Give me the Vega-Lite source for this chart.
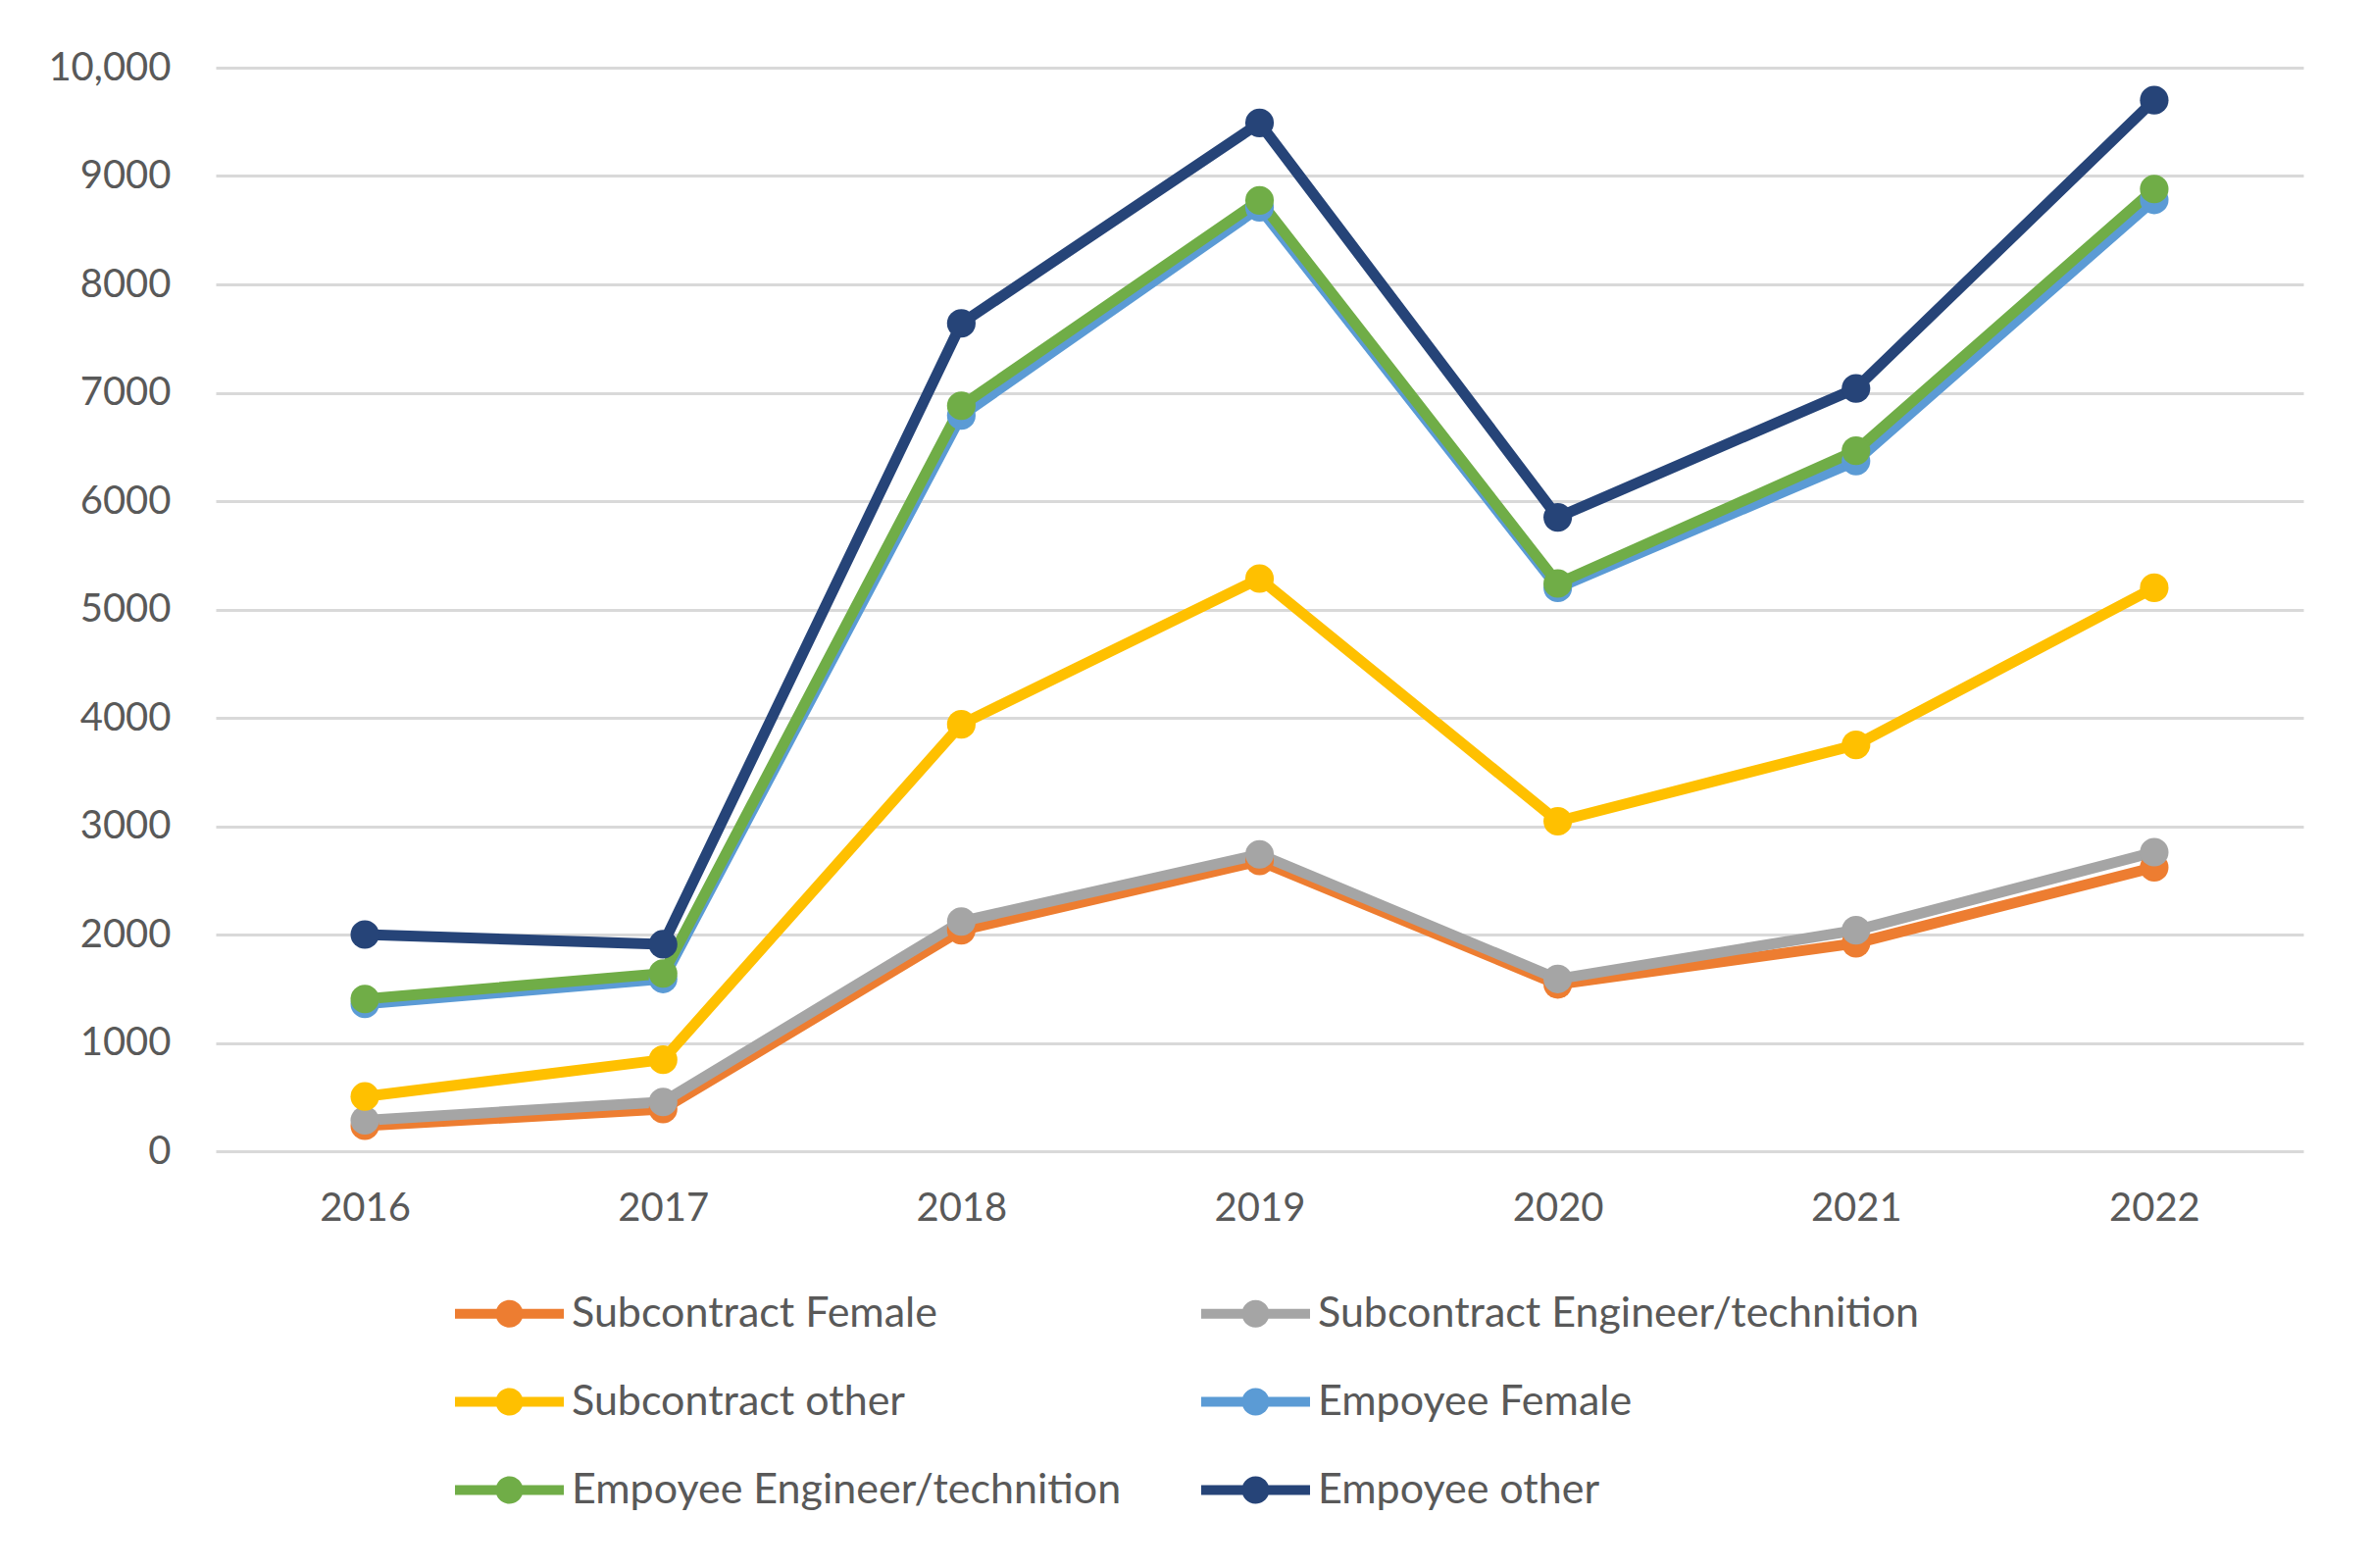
{
  "$schema": "https://vega.github.io/schema/vega-lite/v6.json",
  "width": 2129,
  "height": 1105,
  "autosize": "none",
  "padding": {"left": 220, "top": 69, "right": 69, "bottom": 425},
  "background": "white",
  "config": {
    "view": {"stroke": null},
    "font": "Lato",
    "axis": {
      "labelFont": "Lato",
      "labelColor": "#595959",
      "labelFontSize": 40,
      "tickSize": 0,
      "ticks": false,
      "domain": false
    }
  },
  "data": {
    "values": [
      {"series": "Subcontract Female", "year": "2016", "value": 235},
      {"series": "Subcontract Female", "year": "2017", "value": 390},
      {"series": "Subcontract Female", "year": "2018", "value": 2040},
      {"series": "Subcontract Female", "year": "2019", "value": 2680},
      {"series": "Subcontract Female", "year": "2020", "value": 1540},
      {"series": "Subcontract Female", "year": "2021", "value": 1920},
      {"series": "Subcontract Female", "year": "2022", "value": 2620},
      {"series": "Subcontract Engineer/technition", "year": "2016", "value": 285},
      {"series": "Subcontract Engineer/technition", "year": "2017", "value": 455},
      {"series": "Subcontract Engineer/technition", "year": "2018", "value": 2120},
      {"series": "Subcontract Engineer/technition", "year": "2019", "value": 2740},
      {"series": "Subcontract Engineer/technition", "year": "2020", "value": 1590},
      {"series": "Subcontract Engineer/technition", "year": "2021", "value": 2040},
      {"series": "Subcontract Engineer/technition", "year": "2022", "value": 2760},
      {"series": "Subcontract other", "year": "2016", "value": 505},
      {"series": "Subcontract other", "year": "2017", "value": 845},
      {"series": "Subcontract other", "year": "2018", "value": 3940},
      {"series": "Subcontract other", "year": "2019", "value": 5285},
      {"series": "Subcontract other", "year": "2020", "value": 3045},
      {"series": "Subcontract other", "year": "2021", "value": 3750},
      {"series": "Subcontract other", "year": "2022", "value": 5200},
      {"series": "Empoyee Female", "year": "2016", "value": 1360},
      {"series": "Empoyee Female", "year": "2017", "value": 1590},
      {"series": "Empoyee Female", "year": "2018", "value": 6790},
      {"series": "Empoyee Female", "year": "2019", "value": 8710},
      {"series": "Empoyee Female", "year": "2020", "value": 5200},
      {"series": "Empoyee Female", "year": "2021", "value": 6370},
      {"series": "Empoyee Female", "year": "2022", "value": 8780},
      {"series": "Empoyee Engineer/technition", "year": "2016", "value": 1405},
      {"series": "Empoyee Engineer/technition", "year": "2017", "value": 1640},
      {"series": "Empoyee Engineer/technition", "year": "2018", "value": 6880},
      {"series": "Empoyee Engineer/technition", "year": "2019", "value": 8775},
      {"series": "Empoyee Engineer/technition", "year": "2020", "value": 5240},
      {"series": "Empoyee Engineer/technition", "year": "2021", "value": 6465},
      {"series": "Empoyee Engineer/technition", "year": "2022", "value": 8880},
      {"series": "Empoyee other", "year": "2016", "value": 2000},
      {"series": "Empoyee other", "year": "2017", "value": 1910},
      {"series": "Empoyee other", "year": "2018", "value": 7640},
      {"series": "Empoyee other", "year": "2019", "value": 9490},
      {"series": "Empoyee other", "year": "2020", "value": 5850},
      {"series": "Empoyee other", "year": "2021", "value": 7040},
      {"series": "Empoyee other", "year": "2022", "value": 9700}
    ]
  },
  "encoding": {
    "x": {
      "field": "year",
      "type": "ordinal",
      "scale": {"type": "point", "padding": 0.5},
      "axis": {"title": null, "labelAngle": 0, "labelPadding": 38, "grid": false}
    },
    "y": {
      "field": "value",
      "type": "quantitative",
      "scale": {"domain": [0, 10000], "nice": false},
      "axis": {
        "title": null,
        "values": [0, 1000, 2000, 3000, 4000, 5000, 6000, 7000, 8000, 9000, 10000],
        "labelExpr": "datum.value == 10000 ? '10,000' : format(datum.value, 'd')",
        "labelPadding": 46,
        "grid": true,
        "gridColor": "#D9D9D9",
        "gridWidth": 3
      }
    },
    "color": {
      "field": "series",
      "type": "nominal",
      "sort": null,
      "scale": {
        "domain": ["Subcontract Female", "Subcontract Engineer/technition", "Subcontract other", "Empoyee Female", "Empoyee Engineer/technition", "Empoyee other"],
        "range": ["#ED7D31", "#A5A5A5", "#FFC000", "#5B9BD5", "#70AD47", "#264478"]
      },
      "legend": {
        "title": null,
        "orient": "none",
        "direction": "horizontal",
        "legendX": 278,
        "legendY": 1249,
        "columns": 2,
        "padding": 0,
        "columnPadding": 81,
        "rowPadding": 46,
        "labelFont": "Lato",
        "labelFontSize": 43,
        "labelColor": "#595959",
        "labelOffset": 42,
        "labelLimit": 1000,
        "symbolSize": 1600,
        "symbolType": "M-2.775,-0.25 L2.775,-0.25 L2.775,0.25 L-2.775,0.25 Z M-0.7,0 A0.7,0.7 0 1,1 0.7,0 A0.7,0.7 0 1,1 -0.7,0 Z",
        "symbolStrokeWidth": 0,
        "encode": {
          "symbols": {
            "update": {
              "fill": {"scale": "color", "field": "value"},
              "fillOpacity": {"value": 1},
              "strokeWidth": {"value": 0}
            }
          }
        }
      }
    }
  },
  "layer": [
    {"mark": {"type": "line", "strokeWidth": 11, "strokeJoin": "round", "strokeCap": "round"}},
    {"mark": {"type": "point", "filled": true, "size": 850, "opacity": 1, "shape": "circle"}}
  ]
}
